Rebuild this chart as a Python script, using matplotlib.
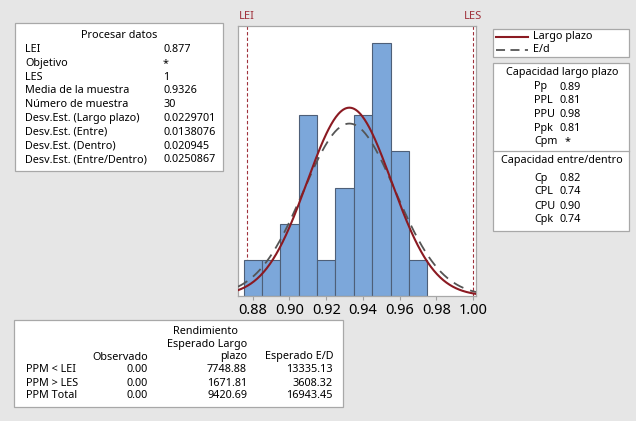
import matplotlib
matplotlib.use("Agg")
import matplotlib.pyplot as plt
from matplotlib.patches import Rectangle
import numpy as np

plt.rcParams['font.family'] = ['Noto Sans', 'DejaVu Sans']

# Histogram data (bin centers, counts)
bin_centers = [0.88, 0.89, 0.90, 0.91, 0.92, 0.93, 0.94, 0.95, 0.96, 0.97]
counts = [1, 1, 2, 5, 1, 3, 5, 7, 4, 1]
bin_width = 0.01

lei = 0.877
les = 1.0
mean = 0.9326
n = 30
sd_long = 0.0229701
sd_bw = 0.0250867

proc_labels = ["LEI", "Objetivo", "LES", "Media de la muestra", "Número de muestra",
               "Desv.Est. (Largo plazo)", "Desv.Est. (Entre)", "Desv.Est. (Dentro)",
               "Desv.Est. (Entre/Dentro)"]
proc_values = ["0.877", "*", "1", "0.9326", "30", "0.0229701", "0.0138076",
               "0.020945", "0.0250867"]

cap_lp_labels = ["Pp", "PPL", "PPU", "Ppk", "Cpm"]
cap_lp_values = ["0.89", "0.81", "0.98", "0.81", "*"]
cap_ed_labels = ["Cp", "CPL", "CPU", "Cpk"]
cap_ed_values = ["0.82", "0.74", "0.90", "0.74"]

rend_rows = ["PPM < LEI", "PPM > LES", "PPM Total"]
rend_obs = ["0.00", "0.00", "0.00"]
rend_lp = ["7748.88", "1671.81", "9420.69"]
rend_ed = ["13335.13", "3608.32", "16943.45"]

W, H = 636, 421
bg = "#e6e6e6"
red = "#8b1a22"
fs = 7.8

fig = plt.figure(figsize=(W / 100, H / 100), dpi=100, facecolor=bg)


def fx(x):
    return x / W


def fy(y):
    return 1 - y / H


def box(x0, y0, x1, y1):
    fig.patches.append(Rectangle((fx(x0), fy(y1)), fx(x1) - fx(x0), fy(y0) - fy(y1),
                                 transform=fig.transFigure, facecolor="white",
                                 edgecolor="#a8a8a8", linewidth=0.9, zorder=0))


def txt(x, y, s, ha="left"):
    fig.text(fx(x), fy(y), s, ha=ha, va="center", fontsize=fs, color="black")


# Main histogram
ax = fig.add_axes([fx(238), fy(296), fx(476) - fx(238), fy(26) - fy(296)])
ax.set_facecolor("white")
ax.bar(bin_centers, counts, width=bin_width, color="#7ca7da", edgecolor="#4e5f78",
       linewidth=0.8, zorder=2)

xs = np.linspace(0.872, 1.0015, 300)
pdf_long = n * bin_width * np.exp(-0.5 * ((xs - mean) / sd_long) ** 2) / (sd_long * np.sqrt(2 * np.pi))
pdf_bw = n * bin_width * np.exp(-0.5 * ((xs - mean) / sd_bw) ** 2) / (sd_bw * np.sqrt(2 * np.pi))
ax.plot(xs, pdf_bw, color="#555555", linestyle=(0, (6, 4)), linewidth=1.3, zorder=3)
ax.plot(xs, pdf_long, color=red, linewidth=1.5, zorder=4)

ax.axvline(lei, color="#a0323c", linestyle=(0, (3, 2)), linewidth=0.8, zorder=1)
ax.axvline(les, color="#a0323c", linestyle=(0, (3, 2)), linewidth=0.8, zorder=1)
ax.text(lei, 1.015, "LEI", transform=ax.get_xaxis_transform(), ha="center", va="bottom",
        fontsize=8, color="#a0323c")
ax.text(les, 1.015, "LES", transform=ax.get_xaxis_transform(), ha="center", va="bottom",
        fontsize=8, color="#a0323c")

ax.set_xlim(0.872, 1.0015)
ax.set_ylim(0, 7.47)
ax.set_yticks([])
ax.set_xticks([0.88, 0.90, 0.92, 0.94, 0.96, 0.98, 1.00])
ax.set_xticklabels(["0.88", "0.90", "0.92", "0.94", "0.96", "0.98", "1.00"])
ax.tick_params(axis="x", labelsize=10.5, length=3, color="#a0a0a0", pad=2)
for s in ax.spines.values():
    s.set_color("#a8a8a8")
    s.set_linewidth(0.9)

# Procesar datos
box(15, 23, 223, 171)
txt(119, 36, "Procesar datos", ha="center")
for i, (lab, val) in enumerate(zip(proc_labels, proc_values)):
    y = 49.5 + i * 13.8
    txt(25, y, lab)
    txt(163, y, val)

# Legend
box(493, 29, 629, 57)
fig.lines.append(plt.Line2D([fx(496), fx(528)], [fy(37), fy(37)], transform=fig.transFigure,
                            color=red, linewidth=1.5))
fig.lines.append(plt.Line2D([fx(496), fx(528)], [fy(50), fy(50)], transform=fig.transFigure,
                            color="#555555", linewidth=1.3, linestyle=(0, (5, 3))))
txt(533, 37, "Largo plazo")
txt(533, 50, "E/d")

# Capacidad
box(493, 63, 629, 231)
txt(562, 73, "Capacidad largo plazo", ha="center")
for i, (lab, val) in enumerate(zip(cap_lp_labels, cap_lp_values)):
    y = 87 + i * 13.7
    txt(534, y, lab)
    if val == "*":
        txt(568, y, val, ha="center")
    else:
        txt(559, y, val)
fig.lines.append(plt.Line2D([fx(493), fx(629)], [fy(151), fy(151)], transform=fig.transFigure,
                            color="#a8a8a8", linewidth=0.9))
txt(562, 160, "Capacidad entre/dentro", ha="center")
for i, (lab, val) in enumerate(zip(cap_ed_labels, cap_ed_values)):
    y = 178 + i * 14
    txt(534, y, lab)
    txt(559, y, val)

# Rendimiento
box(14, 320, 343, 407)
txt(205, 331, "Rendimiento", ha="center")
txt(247, 344, "Esperado Largo", ha="right")
txt(148, 357, "Observado", ha="right")
txt(247, 357, "plazo", ha="right")
txt(333, 357, "Esperado E/D", ha="right")
for i in range(len(rend_rows)):
    y = 370 + i * 13
    txt(26, y, rend_rows[i])
    txt(148, y, rend_obs[i], ha="right")
    txt(247, y, rend_lp[i], ha="right")
    txt(333, y, rend_ed[i], ha="right")

fig.savefig("out.png", dpi=100, facecolor=bg)
